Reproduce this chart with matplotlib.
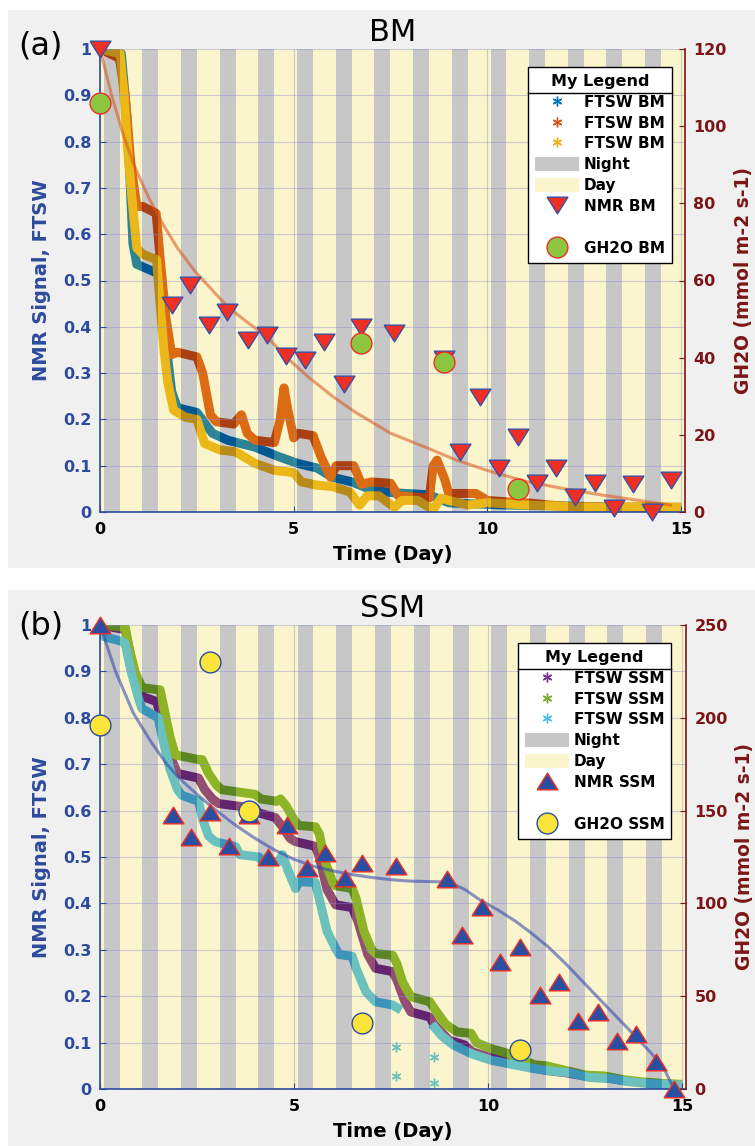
import numpy as np
import matplotlib
matplotlib.use("Agg")
import matplotlib.pyplot as plt
from matplotlib.lines import Line2D
from matplotlib.patches import Patch, Rectangle

W, H = 755, 1146

plt.rcParams["font.family"] = ["DejaVu Sans"]
plt.rcParams["font.weight"] = "bold"
plt.rcParams["axes.labelweight"] = "bold"

# ---- night periods (days) ----
NIGHT_START = [0.10, 1.09, 2.09, 3.09, 4.08, 5.09, 6.09, 7.08, 8.09, 9.09, 10.08, 11.08, 12.09, 13.07, 14.06]
NIGHT_END = [0.51, 1.50, 2.50, 3.50, 4.49, 5.50, 6.50, 7.49, 8.50, 9.50, 10.49, 11.49, 12.50, 13.48, 14.47]
X_MAX = 15.1

# ---- panel (a) BM ----
bm1_t = [0, 0.55, 0.7, 0.85, 0.95, 1.5, 1.65, 1.85, 2.0, 2.5, 2.9, 3.3, 4.0, 4.6, 5.1, 5.6, 6.0, 6.5, 7.0, 7.5, 8.5, 9.0, 9.5, 10.5, 12.0, 13.5, 15.0]
bm1_v = [1.0, 0.99, 0.85, 0.58, 0.535, 0.515, 0.40, 0.26, 0.225, 0.215, 0.17, 0.155, 0.14, 0.12, 0.105, 0.095, 0.075, 0.065, 0.048, 0.042, 0.037, 0.02, 0.018, 0.015, 0.013, 0.01, 0.01]

bm2_t = [0, 0.5, 0.65, 0.8, 0.95, 1.1, 1.45, 1.55, 1.7, 1.85, 2.0, 2.5, 2.65, 2.85, 3.0, 3.45, 3.65, 3.8, 4.0, 4.5, 4.65, 4.75, 4.85, 5.0, 5.1, 5.5, 5.7, 5.95, 6.1, 6.55, 6.75, 7.0, 7.5, 7.7, 8.5, 8.6, 8.7, 8.9, 9.0, 9.7, 10.0, 10.8, 11.0, 12.0, 13.5, 15.0]
bm2_v = [1.0, 0.98, 0.9, 0.75, 0.66, 0.66, 0.645, 0.55, 0.42, 0.34, 0.345, 0.335, 0.30, 0.21, 0.195, 0.19, 0.21, 0.17, 0.155, 0.15, 0.20, 0.268, 0.22, 0.16, 0.17, 0.165, 0.12, 0.075, 0.10, 0.10, 0.06, 0.065, 0.062, 0.035, 0.03, 0.10, 0.112, 0.07, 0.04, 0.04, 0.025, 0.02, 0.02, 0.012, 0.01, 0.008]

bm3_t = [0, 0.52, 0.62, 0.7, 0.8, 0.95, 1.1, 1.46, 1.55, 1.65, 1.75, 1.9, 2.2, 2.5, 2.7, 3.1, 3.5, 4.0, 4.5, 5.0, 5.2, 5.6, 6.0, 6.45, 6.7, 6.9, 7.2, 7.6, 7.8, 8.2, 8.6, 8.8, 9.0, 9.5, 10.0, 11.0, 12.0, 13.0, 14.0, 15.0]
bm3_v = [1.0, 0.99, 0.9, 0.8, 0.7, 0.57, 0.557, 0.545, 0.45, 0.35, 0.28, 0.22, 0.205, 0.20, 0.148, 0.134, 0.13, 0.105, 0.09, 0.085, 0.065, 0.058, 0.055, 0.043, 0.015, 0.035, 0.035, 0.01, 0.025, 0.025, 0.005, 0.03, 0.025, 0.015, 0.02, 0.015, 0.012, 0.01, 0.012, 0.01]

nmr_bm_t = [0, 1.86, 2.33, 2.82, 3.29, 3.81, 4.31, 4.8, 5.3, 5.79, 6.29, 6.74, 7.6, 8.89, 9.28, 9.8, 10.3, 10.78, 11.29, 11.78, 12.27, 12.77, 13.26, 13.75, 14.26, 14.73]
nmr_bm_v = [1.0, 0.447, 0.49, 0.404, 0.432, 0.371, 0.382, 0.337, 0.328, 0.367, 0.276, 0.40, 0.387, 0.33, 0.13, 0.248, 0.095, 0.162, 0.063, 0.095, 0.032, 0.063, 0.009, 0.06, 0.0, 0.069]

gh2o_bm_t = [0, 6.74, 8.89, 10.78]
gh2o_bm_g = [106, 43.8, 38.9, 6.0]

fit_bm_t = [0, 0.3, 0.6, 0.9, 1.25, 1.6, 2.0, 2.45, 3.0, 3.3, 3.8, 4.3, 4.8, 5.4, 6.0, 6.6, 7.5, 8.4, 9.2, 10.1, 11.0, 12.0, 13.0, 14.0, 14.73]
fit_bm_v = [1.0, 0.9, 0.815, 0.745, 0.68, 0.625, 0.57, 0.52, 0.47, 0.443, 0.41, 0.379, 0.335, 0.29, 0.25, 0.215, 0.17, 0.14, 0.112, 0.087, 0.066, 0.05, 0.036, 0.024, 0.015]

# ---- panel (b) SSM ----
ssm1_t = [0, 0.65, 0.8, 1.0, 1.12, 1.46, 1.6, 1.8, 2.0, 2.54, 2.7, 2.9, 3.06, 4.0, 4.09, 4.52, 4.7, 4.9, 5.04, 5.55, 5.65, 5.85, 6.07, 6.5, 6.65, 6.9, 7.1, 7.54, 7.65, 7.85, 8.01, 8.5, 8.6, 9.0, 9.39, 9.6, 10.0, 10.5, 11.0, 11.5, 12.0, 12.5, 13.0, 13.5, 14.0, 14.5, 15.0]
ssm1_v = [1.0, 0.99, 0.93, 0.86, 0.845, 0.835, 0.79, 0.72, 0.68, 0.67, 0.645, 0.625, 0.615, 0.605, 0.595, 0.585, 0.565, 0.54, 0.533, 0.523, 0.50, 0.43, 0.397, 0.391, 0.36, 0.29, 0.26, 0.253, 0.235, 0.19, 0.166, 0.155, 0.14, 0.105, 0.095, 0.08, 0.07, 0.06, 0.05, 0.04, 0.035, 0.028, 0.025, 0.018, 0.014, 0.01, 0.008]

ssm2_t = [0, 0.65, 0.75, 0.9, 1.08, 1.55, 1.65, 1.8, 1.94, 2.54, 2.63, 2.8, 3.0, 3.14, 4.0, 4.15, 4.55, 4.65, 4.8, 5.0, 5.12, 5.55, 5.65, 5.8, 6.0, 6.07, 6.5, 6.6, 6.8, 7.0, 7.1, 7.54, 7.65, 7.8, 8.01, 8.5, 8.6, 8.9, 9.2, 9.56, 9.7, 10.08, 10.5, 10.7, 11.2, 11.5, 12.0, 12.5, 13.0, 13.5, 14.0, 14.5, 15.0]
ssm2_v = [1.0, 0.995, 0.95, 0.9, 0.865, 0.86, 0.82, 0.76, 0.72, 0.71, 0.71, 0.68, 0.655, 0.645, 0.635, 0.625, 0.62, 0.625, 0.61, 0.58, 0.568, 0.565, 0.55, 0.49, 0.445, 0.438, 0.432, 0.41, 0.34, 0.30, 0.292, 0.288, 0.27, 0.23, 0.199, 0.188, 0.175, 0.14, 0.123, 0.12, 0.10, 0.087, 0.077, 0.07, 0.052, 0.05, 0.04, 0.03, 0.028, 0.02, 0.015, 0.012, 0.01]

ssm3_t = [0, 0.1, 0.55, 0.65, 0.8, 1.0, 1.08, 1.5, 1.6, 1.8, 2.0, 2.11, 2.54, 2.65, 2.8, 2.97, 3.5, 3.6, 4.1, 4.18, 4.6, 4.7, 4.85, 5.04, 5.12, 5.55, 5.65, 5.85, 6.07, 6.16, 6.5, 6.6, 6.85, 7.1, 7.54, 7.76, 7.77, 8.55, 8.8, 9.1, 9.6, 10.08, 10.5, 11.1, 11.5, 12.1, 12.6, 13.2, 13.6, 14.1, 14.6, 15.0]
ssm3_v = [0.99, 0.975, 0.965, 0.96, 0.9, 0.84, 0.82, 0.80, 0.76, 0.69, 0.645, 0.633, 0.62, 0.58, 0.545, 0.533, 0.522, 0.505, 0.50, 0.49, 0.49, 0.505, 0.47, 0.432, 0.447, 0.445, 0.41, 0.34, 0.303, 0.29, 0.286, 0.26, 0.21, 0.188, 0.181, 0.17, np.nan, 0.14, 0.115, 0.095, 0.075, 0.062, 0.055, 0.045, 0.04, 0.035, 0.025, 0.022, 0.016, 0.012, 0.01, 0.008]

ssm3_scatter_t = [7.62, 7.62, 8.6, 8.6]
ssm3_scatter_v = [0.091, 0.027, 0.07, 0.013]

nmr_ssm_t = [0, 1.88, 2.34, 2.83, 3.32, 3.83, 4.32, 4.81, 5.34, 5.81, 6.31, 6.76, 7.63, 8.93, 9.32, 9.84, 10.32, 10.81, 11.34, 11.83, 12.32, 12.83, 13.33, 13.82, 14.32, 14.79]
nmr_ssm_v = [1.0, 0.591, 0.544, 0.598, 0.523, 0.59, 0.501, 0.569, 0.477, 0.508, 0.454, 0.486, 0.481, 0.452, 0.332, 0.392, 0.274, 0.307, 0.203, 0.231, 0.147, 0.167, 0.103, 0.119, 0.059, 0.0]

gh2o_ssm_t = [0, 2.83, 3.83, 6.76, 10.81]
gh2o_ssm_g = [196, 230, 150, 35.4, 21]

fit_ssm_t = [0, 0.4, 0.86, 1.3, 1.72, 2.1, 2.5, 3.0, 3.5, 4.0, 4.5, 5.0, 5.5, 6.0, 6.5, 7.0, 7.5, 8.0, 8.5, 9.0, 9.4, 9.8, 10.25, 10.7, 11.1, 11.54, 12.0, 12.4, 12.8, 13.26, 13.7, 14.13, 14.5, 14.79]
fit_ssm_v = [1.0, 0.9, 0.81, 0.75, 0.70, 0.665, 0.635, 0.60, 0.568, 0.54, 0.515, 0.495, 0.48, 0.47, 0.462, 0.456, 0.451, 0.448, 0.447, 0.446, 0.43, 0.407, 0.386, 0.362, 0.337, 0.307, 0.27, 0.235, 0.2, 0.16, 0.122, 0.084, 0.05, 0.0]

LEFT_TICKS = [0, 0.1, 0.2, 0.3, 0.4, 0.5, 0.6, 0.7, 0.8, 0.9, 1]
X_TICKS = [0, 5, 10, 15]

# ---- styles ----
BLUE_TXT = "#2d4b9e"
RED_TXT = "#7c1616"
PANEL_BG = "#f0f0f0"
NIGHT_C = (0, 0, 0, 0.22)
DAY_C = (0.9, 0.82, 0.0, 0.2)
M_BLUE = (0.0, 0.447, 0.741)
M_ORANGE = (0.85, 0.325, 0.098)
M_YELLOW = (0.929, 0.694, 0.125)
M_PURPLE = (0.494, 0.184, 0.556)
M_GREEN = (0.466, 0.674, 0.188)
M_CYAN = (0.301, 0.745, 0.933)
ASTER = (6, 2, 0)
TRI_DOWN = [(-1, 0.8), (1, 0.8), (0, -0.8), (-1, 0.8)]
TRI_UP = [(-1, -0.8), (1, -0.8), (0, 0.8), (-1, -0.8)]


def px_rect(x0, y0, x1, y1):
    return [x0 / W, 1 - y1 / H, (x1 - x0) / W, (y1 - y0) / H]


fig = plt.figure(figsize=(W / 100, H / 100), dpi=100)
fig.add_artist(Rectangle((8 / W, 1 - 568 / H), (W - 8) / W, 558 / H,
                         transform=fig.transFigure, facecolor=PANEL_BG, edgecolor="none", zorder=-5))
fig.add_artist(Rectangle((8 / W, 0), (W - 8) / W, 1 - 590 / H,
                         transform=fig.transFigure, facecolor=PANEL_BG, edgecolor="none", zorder=-5))


def draw_panel(rect, title, letter, letter_y, series, nmr, nmr_marker, nmr_fc, nmr_ec,
               gh, gh_fc, gh_ec, gh_max, gh_ticks, fit, fit_color, names, legend_xy):
    ax = fig.add_axes(px_rect(*rect))
    ax.set_facecolor("white")

    for (t, v, c) in series:
        ax.plot(t, v, color=c, lw=6.5, zorder=1, solid_capstyle="butt")

    # night / day overlays drawn over the FTSW traces
    day_s = [0] + NIGHT_END
    day_e = NIGHT_START + [X_MAX]
    for s, e in zip(day_s, day_e):
        ax.axvspan(s, e, color=DAY_C, lw=0, zorder=1.2)
    for s, e in zip(NIGHT_START, NIGHT_END):
        ax.axvspan(s, e, color=NIGHT_C, lw=0, zorder=1.2)

    ax.plot(fit[0], fit[1], color=fit_color, alpha=0.55, lw=2.2, zorder=3)
    ax.plot(nmr[0], nmr[1], ls="none", marker=nmr_marker, ms=15, mfc=nmr_fc, mec=nmr_ec,
            mew=1, zorder=4, clip_on=False)

    ax.set_xlim(0, X_MAX)
    ax.set_ylim(0, 1)
    ax.set_xticks(X_TICKS)
    ax.set_yticks(LEFT_TICKS)
    ax.set_yticklabels([f"{v:g}" for v in LEFT_TICKS])
    ax.grid(True, color="#8a8ad0", alpha=0.4, lw=0.8)
    ax.tick_params(axis="x", direction="in", length=4, color=BLUE_TXT, labelcolor="black",
                   labelsize=11.5, pad=7)
    ax.tick_params(axis="y", direction="in", length=4, color=BLUE_TXT, labelcolor=BLUE_TXT,
                   labelsize=11.5, pad=6)
    for side in ["top", "right"]:
        ax.spines[side].set_visible(False)
    for side in ["left", "bottom"]:
        ax.spines[side].set_color(BLUE_TXT)
        ax.spines[side].set_linewidth(1.2)

    ax.set_xlabel("Time (Day)", fontsize=14, color="black")
    ax.xaxis.set_label_coords(0.5, -0.072)
    ax.set_ylabel("NMR Signal, FTSW", fontsize=14, color=BLUE_TXT)
    ax.yaxis.set_label_coords(-0.083, 0.5)
    ax.set_title(title, fontsize=22, fontweight="normal", pad=6)

    ax2 = ax.twinx()
    ax2.plot(gh[0], gh[1], ls="none", marker="o", ms=15, mfc=gh_fc, mec=gh_ec, mew=1,
             zorder=4, clip_on=False)
    ax2.set_ylim(0, gh_max)
    ax2.set_yticks(gh_ticks)
    ax2.tick_params(axis="y", direction="in", length=4, color=RED_TXT, labelcolor=RED_TXT,
                    labelsize=11.5, pad=6)
    for side in ["top", "left", "bottom"]:
        ax2.spines[side].set_visible(False)
    ax2.spines["right"].set_color(RED_TXT)
    ax2.spines["right"].set_linewidth(1.2)
    ax2.set_ylabel("GH2O (mmol m-2 s-1)", fontsize=13.5, color=RED_TXT)
    ax2.yaxis.set_label_coords(1.083, 0.5)

    fig.text(18 / W, 1 - letter_y / H, letter, fontsize=23, fontweight="normal",
             ha="left", va="center")

    handles = [Line2D([], [], ls="none", marker=ASTER, ms=7, mew=1, color=s[2]) for s in series]
    handles += [Patch(facecolor=NIGHT_C, edgecolor="none"),
                Patch(facecolor=DAY_C, edgecolor="none"),
                Line2D([], [], ls="none", marker=nmr_marker, ms=15, mfc=nmr_fc, mec=nmr_ec, mew=1),
                Line2D([], [], ls="none"),
                Line2D([], [], ls="none", marker="o", ms=15, mfc=gh_fc, mec=gh_ec, mew=1)]
    leg = ax2.legend(handles, names, loc="upper left",
                     bbox_to_anchor=(legend_xy[0] / W, 1 - legend_xy[1] / H),
                     bbox_transform=fig.transFigure, borderaxespad=0, fancybox=False,
                     framealpha=1, edgecolor="black", fontsize=11, labelspacing=0.38,
                     handlelength=2.9, handleheight=1.0, handletextpad=0.3, borderpad=0.45,
                     title="My Legend", title_fontproperties={"weight": "bold", "size": 11.5})
    leg.get_frame().set_linewidth(1.0)
    leg.set_zorder(10)
    return leg


leg_a = draw_panel((100, 49, 685, 512), "BM", "(a)", 46,
                   [(bm1_t, bm1_v, M_BLUE), (bm2_t, bm2_v, M_ORANGE), (bm3_t, bm3_v, M_YELLOW)],
                   (nmr_bm_t, nmr_bm_v), TRI_DOWN, "#ee2f24", "#3b4fa6",
                   (gh2o_bm_t, gh2o_bm_g), "#8cc540", "#ee2f24", 120, [0, 20, 40, 60, 80, 100, 120],
                   (fit_bm_t, fit_bm_v), M_ORANGE,
                   ["FTSW BM", "FTSW BM", "FTSW BM", "Night", "Day", "NMR BM", " ", "GH2O BM"],
                   (528, 67))

leg_b = draw_panel((100, 625, 686, 1089), "SSM", "(b)", 626,
                   [(ssm1_t, ssm1_v, M_PURPLE), (ssm2_t, ssm2_v, M_GREEN), (ssm3_t, ssm3_v, M_CYAN)],
                   (nmr_ssm_t, nmr_ssm_v), TRI_UP, "#2b4ea0", "#ee2f24",
                   (gh2o_ssm_t, gh2o_ssm_g), "#fbe43c", "#2b4ea0", 250, [0, 50, 100, 150, 200, 250],
                   (fit_ssm_t, fit_ssm_v), "#2b3fb0",
                   ["FTSW SSM", "FTSW SSM", "FTSW SSM", "Night", "Day", "NMR SSM", " ", "GH2O SSM"],
                   (518, 643))

# scattered cyan points in panel b
ax_b = fig.axes[2]
ax_b.plot(ssm3_scatter_t, ssm3_scatter_v, ls="none", marker=ASTER, ms=7, mew=1,
          color=M_CYAN, zorder=1)

# separator line under the legend titles
fig.canvas.draw()
r = fig.canvas.get_renderer()
for leg in [leg_a, leg_b]:
    tb = leg.get_title().get_window_extent(r)
    fb = leg.get_frame().get_window_extent(r)
    y = tb.y0 - 4
    fig.add_artist(Line2D([fb.x0 / W, fb.x1 / W], [y / H, y / H], transform=fig.transFigure,
                          color="black", lw=1.0, zorder=20))

fig.savefig("out.png", dpi=100)
